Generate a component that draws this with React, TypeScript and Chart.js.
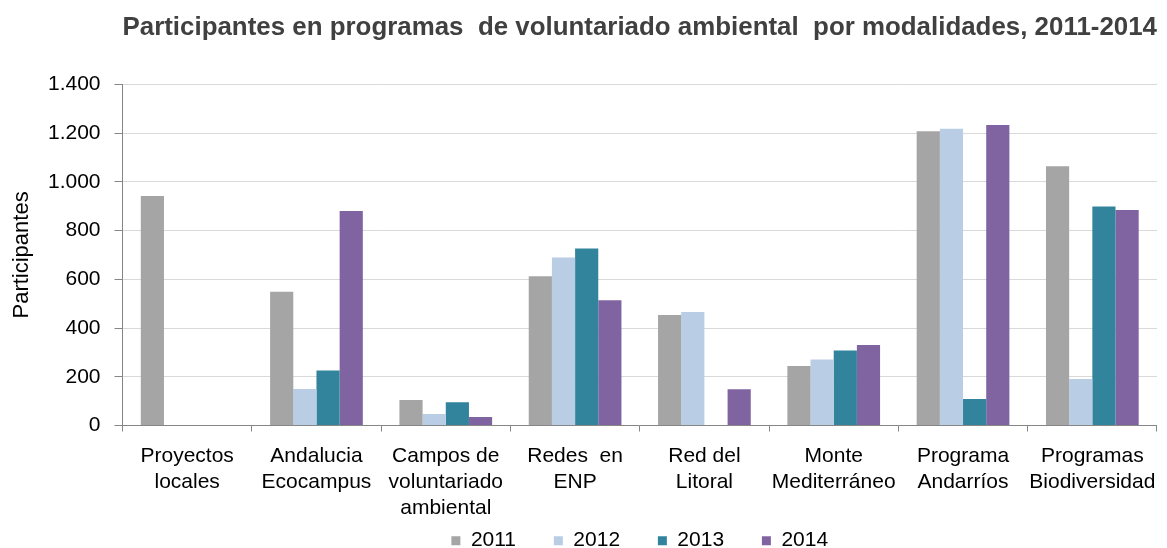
import React, { useEffect, useRef } from 'react';
import { Chart, registerables } from 'chart.js';

Chart.register(...registerables);

const FONT = '"Liberation Sans", Arial, sans-serif';

const chartTitle = 'Participantes en programas  de voluntariado ambiental  por modalidades, 2011-2014';
const yAxisTitle = 'Participantes';

const categories: string[][] = [
  ['Proyectos', 'locales'],
  ['Andalucia', 'Ecocampus'],
  ['Campos de', 'voluntariado', 'ambiental'],
  ['Redes  en', 'ENP'],
  ['Red del', 'Litoral'],
  ['Monte', 'Mediterráneo'],
  ['Programa', 'Andarríos'],
  ['Programas', 'Biodiversidad'],
];

const seriesNames = ['2011', '2012', '2013', '2014'];

const values2011 = [942, 549, 105, 612, 453, 244, 1207, 1064];
const values2012 = [null, 150, 47, 689, 466, 271, 1218, 191];
const values2013 = [null, 226, 95, 726, null, 308, 109, 899];
const values2014 = [null, 880, 35, 514, 149, 330, 1233, 884];

const seriesColors = ['#A5A5A5', '#B9CDE5', '#31849B', '#8064A2'];

const yMin = 0;
const yMax = 1400;
const yStep = 200;

const formatThousands = (v: number) =>
  String(v).replace(/\B(?=(\d{3})+(?!\d))/g, '.');

// Let the multi-line category labels run below the x-axis box (Chart.js clips them otherwise).
const unclipXLabels = {
  id: 'unclipXLabels',
  beforeDraw(chart: any) {
    const sx = chart.scales && chart.scales.x;
    if (sx) sx._computeLabelArea = () => undefined;
  },
};

export default function App() {
  const canvasRef = useRef<HTMLCanvasElement | null>(null);

  useEffect(() => {
    if (!canvasRef.current) return;
    const seriesValues = [values2011, values2012, values2013, values2014];
    const chart = new Chart(canvasRef.current, {
      type: 'bar',
      data: {
        labels: categories,
        datasets: seriesNames.map((name, i) => ({
          label: name,
          data: seriesValues[i],
          backgroundColor: seriesColors[i],
          borderWidth: 0,
          categoryPercentage: 0.717,
          barPercentage: 1,
        })),
      },
      options: {
        animation: false,
        responsive: false,
        layout: { padding: { left: 0, right: 3, top: 0, bottom: 0 } },
        plugins: {
          title: {
            display: true,
            text: chartTitle,
            fullSize: false,
            align: 'center',
            color: '#404040',
            font: { family: FONT, size: 26.2, weight: 'bold', lineHeight: 1.2 },
            padding: { top: 12.5, bottom: 40.4 },
          },
          legend: {
            position: 'bottom',
            fullSize: false,
            maxHeight: 55.6,
            labels: {
              boxWidth: 9,
              boxHeight: 9,
              padding: 37.8,
              color: '#000',
              font: { family: FONT, size: 21 },
            },
          },
          tooltip: { enabled: false },
        },
        scales: {
          x: {
            grid: {
              display: true,
              drawOnChartArea: false,
              offset: true,
              tickLength: 6,
              color: '#868686',
            },
            border: { color: '#868686' },
            ticks: {
              color: '#000',
              font: { family: FONT, size: 21, lineHeight: 1.26 },
              padding: 11,
              maxRotation: 0,
              autoSkip: false,
            },
            afterFit: (s: any) => {
              s.height = 66.9;
            },
          },
          y: {
            min: yMin,
            max: yMax,
            ticks: {
              stepSize: yStep,
              padding: 14,
              color: '#000',
              font: { family: FONT, size: 21 },
              callback: (v: any) => formatThousands(Number(v)),
            },
            grid: {
              color: '#D9D9D9',
              tickColor: '#868686',
              tickLength: 8,
            },
            border: { color: '#868686' },
            title: {
              display: true,
              text: yAxisTitle,
              color: '#000',
              font: { family: FONT, size: 22, lineHeight: 1.2 },
              padding: { top: 9, bottom: 0 },
            },
            afterFit: (s: any) => {
              s.width = 122.5;
            },
          },
        },
      },
      plugins: [unclipXLabels],
    });
    return () => chart.destroy();
  }, []);

  return (
    <div style={{ position: 'absolute', left: 0, top: 0, width: 1167, height: 548, background: '#fff' }}>
      <canvas ref={canvasRef} width={1167} height={548} style={{ display: 'block' }} />
    </div>
  );
}
